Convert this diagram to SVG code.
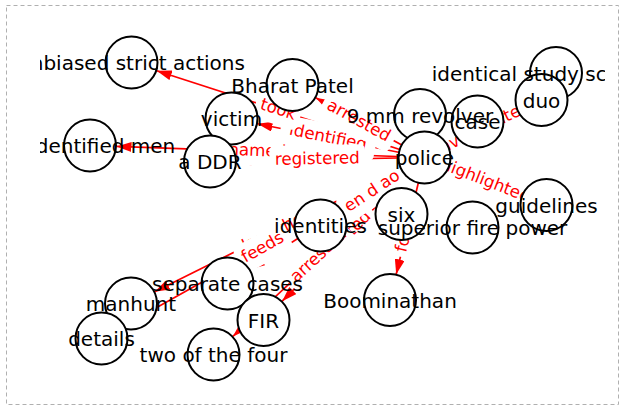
<svg xmlns="http://www.w3.org/2000/svg" width="626" height="410" viewBox="0 0 626 410">
<style>
.edge{stroke:#ff0000;stroke-width:1.7;fill:none;marker-end:url(#ah)}
.lbox{fill:#fff;stroke:none}
.ltxt{font-family:"DejaVu Sans","Liberation Sans",sans-serif;font-size:16.7px;fill:#ff0000;text-anchor:middle}
.node{fill:#fff;stroke:#000;stroke-width:2}
.ntxt{font-family:"DejaVu Sans","Liberation Sans",sans-serif;font-size:20px;fill:#000;text-anchor:middle}
</style>
<defs>
<marker id="ah" markerUnits="userSpaceOnUse" viewBox="0 0 15 10" refX="15" refY="5" markerWidth="15" markerHeight="10" orient="auto">
<path d="M0,0 L15,5 L0,10 z" fill="#ff0000"/>
</marker>
<clipPath id="ax"><rect x="40" y="0" width="565" height="410"/></clipPath>
</defs>
<rect x="6.5" y="5.5" width="612" height="399" fill="#fff" stroke="#b0b0b0" stroke-width="1" stroke-dasharray="4 3"/>
<g id="connectors">
<g id="edge-lines">
<line class="edge" x1="424.5" y1="157.5" x2="156.7" y2="70.7"/>
<line class="edge" x1="424.5" y1="157.5" x2="257.5" y2="123.75"/>
<line class="edge" x1="424.5" y1="157.5" x2="116.5" y2="146.45"/>
<line class="edge" x1="424.5" y1="157.5" x2="236.5" y2="161.0"/>
<line class="edge" x1="424.5" y1="157.5" x2="315.7" y2="97.8"/>
<line class="edge" x1="424.5" y1="157.5" x2="521.8" y2="195.4"/>
<line class="edge" x1="424.5" y1="157.5" x2="517.7" y2="111.7"/>
<line class="edge" x1="424.5" y1="157.5" x2="455.6" y2="136.4"/>
<line class="edge" x1="424.5" y1="157.5" x2="396.2" y2="274.2"/>
<line class="edge" x1="424.5" y1="157.5" x2="282.2" y2="301.2"/>
<line class="edge" x1="424.5" y1="157.5" x2="232.9" y2="336.4"/>
<line class="edge" x1="424.5" y1="157.5" x2="124.6" y2="325.5"/>
<line class="edge" x1="424.5" y1="157.5" x2="154.7" y2="291.7"/>
<line class="edge" x1="424.5" y1="157.5" x2="249.8" y2="269.2"/>
<line class="edge" x1="424.5" y1="157.5" x2="342.7" y2="211.0"/>
</g>
<g id="edge-labels">
<g transform="translate(328,138) rotate(11.43)"><rect class="lbox" x="-48.35" y="-14.5" width="96.7" height="29" rx="5"/><text class="ltxt" y="4.5">identified</text></g>
<g transform="translate(278,110) rotate(17.96)"><rect class="lbox" x="-23.3" y="-14.5" width="46.6" height="29" rx="5"/><text class="ltxt" y="4.5">took</text></g>
<g transform="translate(257.25,151.5) rotate(2.05)"><rect class="lbox" x="-33.95" y="-14.5" width="67.9" height="29" rx="5"/><text class="ltxt" y="4.5">named</text></g>
<g transform="translate(317.25,159.5) rotate(-1.07)"><rect class="lbox" x="-47.75" y="-14.5" width="95.5" height="29" rx="5"/><text class="ltxt" y="4.5">registered</text></g>
<g transform="translate(358.5,121.25) rotate(28.78)"><rect class="lbox" x="-40.1" y="-14.5" width="80.2" height="29" rx="5"/><text class="ltxt" y="4.5">arrested</text></g>
<g transform="translate(485.5,181.25) rotate(21.27)"><rect class="lbox" x="-56.15" y="-14.5" width="112.3" height="29" rx="5"/><text class="ltxt" y="4.5">highlighted</text></g>
<g transform="translate(483,128.75) rotate(-26.17)"><rect class="lbox" x="-56.65" y="-14.5" width="113.3" height="29" rx="5"/><text class="ltxt" y="4.5">investigated</text></g>
<g transform="translate(407.25,228.75) rotate(-76.4)"><rect class="lbox" x="-28.9" y="-14.5" width="57.8" height="29" rx="5"/><text class="ltxt" y="4.5">found</text></g>
<g transform="translate(344,238.75) rotate(-45.26)"><rect class="lbox" x="-40.1" y="-14.5" width="80.2" height="29" rx="5"/><text class="ltxt" y="4.5">arrested</text></g>
<g transform="translate(319,256) rotate(-43.03)"><rect class="lbox" x="-40.1" y="-14.5" width="80.2" height="29" rx="5"/><text class="ltxt" y="4.5">arrested</text></g>
<g transform="translate(277.75,230.5) rotate(-26.45)"><rect class="lbox" x="-43.3" y="-14.5" width="86.6" height="29" rx="5"/><text class="ltxt" y="4.5">launched</text></g>
<g transform="translate(263,248) rotate(-29.26)"><rect class="lbox" x="-27.8" y="-14.5" width="55.6" height="29" rx="5"/><text class="ltxt" y="4.5">feeds</text></g>
<g transform="translate(372.5,191.5) rotate(-33.18)"><rect class="lbox" x="-36.2" y="-14.5" width="72.4" height="29" rx="5"/><text class="ltxt" y="4.5">en d ao</text></g>
</g>
</g>
<g id="nodes">
<g id="n-unbiased"><circle class="node" cx="131.5" cy="62.5" r="26"/></g>
<g id="n-bharat"><circle class="node" cx="292.5" cy="85" r="26"/></g>
<g id="n-victim"><circle class="node" cx="231.5" cy="118.5" r="26"/></g>
<g id="n-unidentified"><circle class="node" cx="90" cy="145.5" r="26"/></g>
<g id="n-ddr"><circle class="node" cx="210" cy="161.5" r="26"/></g>
<g id="n-identical"><circle class="node" cx="556" cy="73" r="26"/></g>
<g id="n-revolver"><circle class="node" cx="420" cy="115" r="26"/></g>
<g id="n-police"><circle class="node" cx="424.5" cy="157.5" r="26"/></g>
<g id="n-case"><circle class="node" cx="477.5" cy="121.5" r="26"/></g>
<g id="n-duo"><circle class="node" cx="541.5" cy="100" r="26"/></g>
<g id="n-guidelines"><circle class="node" cx="546.5" cy="205" r="26"/></g>
<g id="n-six"><circle class="node" cx="401.5" cy="214" r="26"/></g>
<g id="n-identities"><circle class="node" cx="320.5" cy="225.5" r="26"/></g>
<g id="n-firepower"><circle class="node" cx="472.5" cy="227.5" r="26"/></g>
<g id="n-boominathan"><circle class="node" cx="390" cy="300" r="26"/></g>
<g id="n-separate"><circle class="node" cx="227.5" cy="283.5" r="26"/></g>
<g id="n-fir"><circle class="node" cx="263.5" cy="320" r="26"/></g>
<g id="n-manhunt"><circle class="node" cx="131" cy="303.5" r="26"/></g>
<g id="n-details"><circle class="node" cx="101.5" cy="338.5" r="26"/></g>
<g id="n-twoof"><circle class="node" cx="213.5" cy="354.5" r="26"/></g>
</g>
<g id="node-labels" clip-path="url(#ax)">
<text class="ntxt" x="131.5" y="70">unbiased strict actions</text>
<text class="ntxt" x="292.5" y="92.5">Bharat Patel</text>
<text class="ntxt" x="231.5" y="126">victim</text>
<text class="ntxt" x="90" y="153">unidentified men</text>
<text class="ntxt" x="210" y="169">a DDR</text>
<text class="ntxt" x="556" y="80.5">identical study scenarios</text>
<text class="ntxt" x="420" y="122.5">9 mm revolver</text>
<text class="ntxt" x="424.5" y="165">police</text>
<text class="ntxt" x="477.5" y="129">case</text>
<text class="ntxt" x="541.5" y="107.5">duo</text>
<text class="ntxt" x="546.5" y="212.5">guidelines</text>
<text class="ntxt" x="401.5" y="221.5">six</text>
<text class="ntxt" x="320.5" y="233">identities</text>
<text class="ntxt" x="472.5" y="235">superior fire power</text>
<text class="ntxt" x="390" y="307.5">Boominathan</text>
<text class="ntxt" x="227.5" y="291">separate cases</text>
<text class="ntxt" x="263.5" y="327.5">FIR</text>
<text class="ntxt" x="131" y="311">manhunt</text>
<text class="ntxt" x="101.5" y="346">details</text>
<text class="ntxt" x="213.5" y="362">two of the four</text>
</g>
</svg>
